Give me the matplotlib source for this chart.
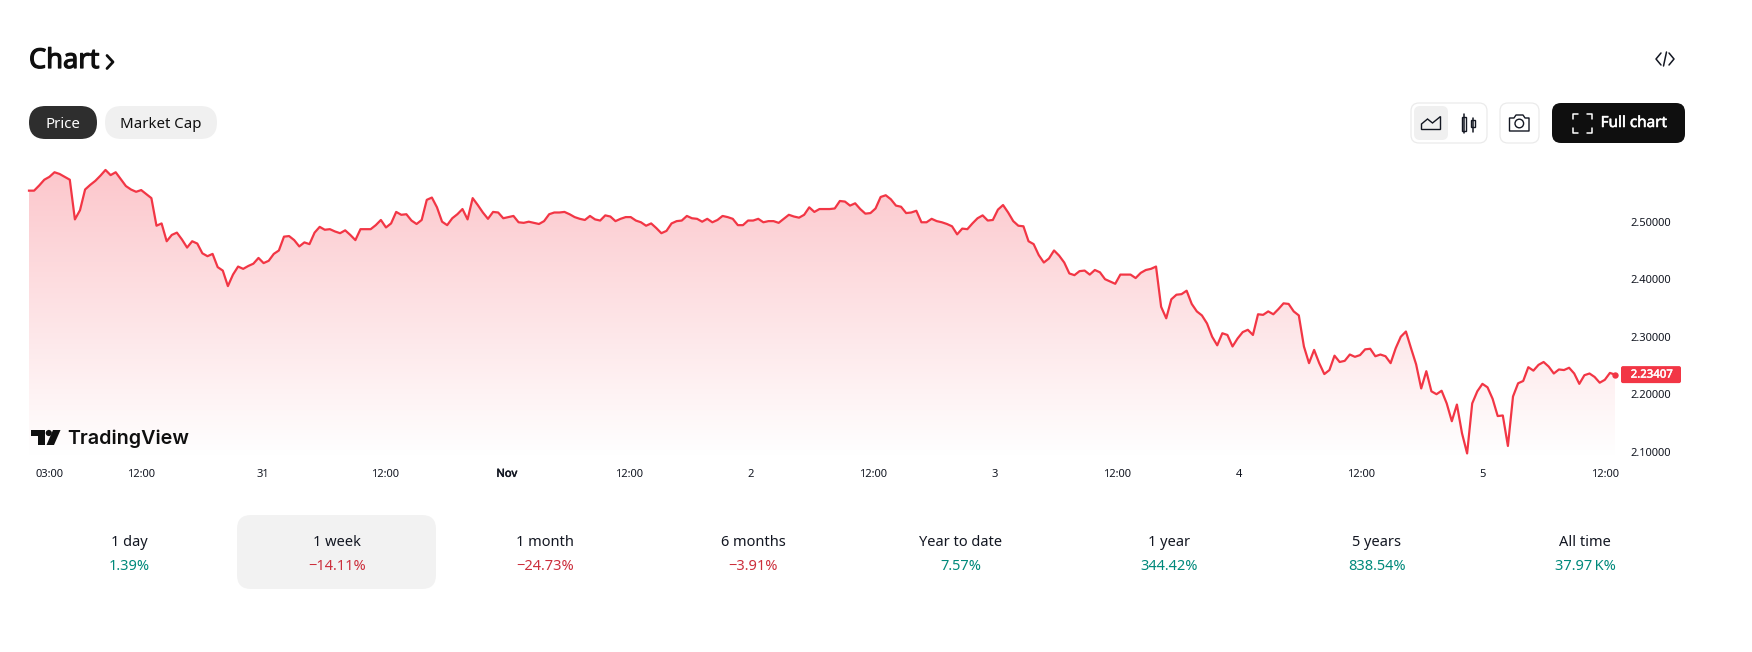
import numpy as np
import matplotlib
matplotlib.use("Agg")
import matplotlib.pyplot as plt
import matplotlib.patheffects as pe
from matplotlib.patches import FancyBboxPatch, Polygon, Circle, Rectangle
from matplotlib.colors import LinearSegmentedColormap

plt.rcParams['font.family'] = ['Noto Sans', 'DejaVu Sans']

prices = [
 2.554,2.554,2.563,2.573,2.578,2.586,2.583,2.578,2.573,2.504,2.520,2.556,2.564,2.571,2.580,2.590,2.581,2.586,2.574,2.562,
 2.556,2.552,2.555,2.548,2.541,2.493,2.497,2.466,2.477,2.481,2.469,2.455,2.466,2.462,2.445,2.440,2.444,2.421,2.415,2.388,
 2.408,2.422,2.418,2.423,2.427,2.437,2.428,2.432,2.444,2.450,2.474,2.475,2.468,
 2.457,2.464,2.461,2.481,2.491,2.486,2.487,2.483,2.480,2.485,2.477,2.468,2.487,2.487,2.487,2.494,2.503,2.490,2.497,2.517,
 2.512,2.513,2.502,2.496,2.503,2.538,2.542,2.525,2.500,2.494,2.506,2.513,2.522,2.504,2.541,2.529,2.516,2.505,2.517,2.516,
 2.506,2.508,2.510,2.499,2.498,2.500,2.498,2.496,2.501,2.513,2.516,2.516,
 2.517,2.513,2.508,2.505,2.503,2.510,2.504,2.502,2.511,2.509,2.501,2.505,2.508,2.508,2.502,2.499,2.493,2.497,2.489,2.480,
 2.484,2.497,2.501,2.502,2.510,2.506,2.505,2.500,2.505,2.499,2.503,2.510,2.508,2.505,2.494,2.494,2.502,2.502,2.505,2.499,
 2.501,2.501,2.498,2.505,2.512,2.509,2.507,2.512,2.525,2.517,2.522,2.522,
 2.522,2.523,2.536,2.535,2.528,2.532,2.522,2.514,2.515,2.523,2.543,2.546,2.539,2.528,2.526,2.515,2.516,2.519,2.499,2.499,
 2.505,2.501,2.499,2.496,2.492,2.478,2.488,2.487,2.497,2.506,2.511,2.502,2.503,2.521,2.529,2.516,2.501,2.493,2.492,2.466,
 2.461,2.442,2.429,2.436,2.450,2.441,2.429,2.410,2.407,2.414,2.415,2.408,
 2.416,2.412,2.400,2.396,2.392,2.408,2.408,2.408,2.402,2.411,2.416,2.418,2.422,2.352,2.332,2.365,2.373,2.374,2.380,2.357,
 2.344,2.337,2.323,2.300,2.285,2.306,2.303,2.283,2.297,2.308,2.312,2.303,2.339,2.338,2.344,2.339,2.348,2.358,2.357,2.344,
 2.337,2.283,2.254,2.277,2.254,2.235,2.242,2.267,2.256,2.258,2.269,
 2.265,2.268,2.278,2.279,2.266,2.269,2.266,2.254,2.280,2.300,2.309,2.280,2.252,2.210,2.240,2.205,2.200,2.206,2.184,2.153,
 2.182,2.132,2.097,2.184,2.205,2.218,2.212,2.192,2.162,2.163,2.110,2.196,2.219,2.223,2.247,2.241,2.251,2.256,2.248,2.236,
 2.243,2.242,2.246,2.236,2.218,2.233,2.236,2.230,2.220,2.225,2.237,2.23407,
]
time_start_h, time_end_h = 1.0, 157.0
last_price = 2.23407
y_ticks = [2.1, 2.2, 2.3, 2.4, 2.5]
x_ticks = [3, 12, 24, 36, 48, 60, 72, 84, 96, 108, 120, 132, 144, 156]
x_labels = ['03:00', '12:00', '31', '12:00', 'Nov', '12:00', '2', '12:00', '3', '12:00', '4', '12:00', '5', '12:00']
periods = ['1 day', '1 week', '1 month', '6 months', 'Year to date', '1 year', '5 years', 'All time']
changes = ['1.39%', '\u221214.11%', '\u221224.73%', '\u22123.91%', '7.57%', '344.42%', '838.54%', '37.97\u2009K%']

RED = '#f23645'; TXT = '#131722'
W, H = 1752, 652
fig = plt.figure(figsize=(W/100, H/100), dpi=100, facecolor='white')

def heavy(color, w=0.5):
    return [pe.withStroke(linewidth=w, foreground=color)]

# ---------- price chart
L, R, T, B = 29, 1615, 165, 456
ax = fig.add_axes([L/W, 1-B/H, (R-L)/W, (B-T)/H])
hours = np.linspace(time_start_h, time_end_h, len(prices))
ylo = 2.5-(B-221.7)/575; yhi = 2.5-(T-221.7)/575
fill = ax.fill_between(hours, prices, ylo, facecolor='none', edgecolor='none')
cm = LinearSegmentedColormap.from_list('g', ['#fcc6cb', '#ffffff'])
im = ax.imshow(np.linspace(0, 1, 256)[:, None], cmap=cm, aspect='auto', vmin=0, vmax=1,
               extent=[time_start_h, time_end_h, ylo, yhi], origin='upper', zorder=1)
im.set_clip_path(fill.get_paths()[0], transform=ax.transData)
ax.plot(hours, prices, color=RED, lw=1.6, zorder=3, solid_joinstyle='round', clip_on=False)
ax.plot(hours[-1], prices[-1], 'o', color=RED, ms=4.6, mew=0, zorder=4, clip_on=False)
ax.set_xlim(time_start_h, time_end_h); ax.set_ylim(ylo, yhi)
for s in ax.spines.values():
    s.set_visible(False)
ax.yaxis.tick_right()
ax.set_yticks(y_ticks, [f'{v:.5f}' for v in y_ticks])
ax.set_xticks(x_ticks, x_labels)
ax.tick_params(axis='y', length=0, pad=11.3, labelsize=8, labelcolor=TXT)
ax.tick_params(axis='x', length=0, pad=9.2, labelsize=8, labelcolor=TXT)
for lab in ax.get_xticklabels():
    if lab.get_text() == 'Nov':
        lab.set_path_effects(heavy(TXT, 0.4))
ax.patch.set_visible(False)

# ---------- page furniture, in pixel units
ov = fig.add_axes([0, 0, 1, 1], zorder=5)
ov.set_xlim(0, W); ov.set_ylim(H, 0); ov.axis('off')

def box(x0, y0, x1, y1, r, fc, ec='none', lw=0):
    ov.add_patch(FancyBboxPatch((x0+r, y0+r), x1-x0-2*r, y1-y0-2*r,
                 boxstyle=f'round,pad={r},rounding_size={r}', fc=fc, ec=ec, lw=lw))

def ln(xs, ys, c='#131722', lw=1.1):
    ov.plot(xs, ys, color=c, lw=lw, solid_capstyle='round', solid_joinstyle='round')

ov.text(29, 61, 'Chart', fontsize=19.6, color='#0f0f0f', va='center', ha='left',
        path_effects=heavy('#0f0f0f', 0.9))
ln([107, 113, 107], [55.5, 62, 68.5], c='#0f0f0f', lw=2.0)

ln([1661, 1656, 1661], [53, 59, 65]); ln([1669, 1674, 1669], [53, 59, 65]); ln([1666.5, 1663.5], [52, 66])

box(29, 106, 97, 139, 16.5, '#2e2e2e')
ov.text(63, 124, 'Price', color='white', fontsize=10.8, ha='center', va='center')
box(105, 106, 217, 139, 16.5, '#f0f0f0')
ov.text(161, 124, 'Market Cap', color='#0f0f0f', fontsize=10.8, ha='center', va='center')

box(1411, 103, 1487, 143, 8, 'white', '#ebebeb', 0.9)
box(1414, 106, 1448, 140, 6, '#f0f0f0')
ov.add_patch(Polygon([(1421.5, 129.5), (1421.5, 124), (1427.5, 119), (1432.5, 123), (1440.5, 116.5), (1440.5, 129.5)],
                     closed=True, fc='none', ec='#131722', lw=1.0))
ln([1464, 1464], [113.5, 133]); ln([1472.7, 1472.7], [118, 131.5])
ov.add_patch(Rectangle((1462.2, 116.5), 3.6, 14, fc='white', ec='#131722', lw=1.0))
ov.add_patch(Rectangle((1470.9, 119.5), 3.6, 7.5, fc='white', ec='#131722', lw=1.0))

box(1500, 103, 1539, 143, 8, 'white', '#ebebeb', 0.9)
ov.add_patch(Polygon([(1509.5, 131), (1509.5, 118), (1514, 118), (1516, 115), (1523, 115), (1525, 118), (1529, 118), (1529, 131)],
                     closed=True, fc='none', ec='#131722', lw=1.0, joinstyle='round'))
ov.add_patch(Circle((1519.3, 123.5), 4.3, fc='none', ec='#131722', lw=1.0))

box(1552, 103, 1685, 143, 9, '#0f0f0f')
for sx, sy, cx, cy in [(-1, -1, 1572.5, 113.5), (1, -1, 1591.5, 113.5), (-1, 1, 1572.5, 132.5), (1, 1, 1591.5, 132.5)]:
    ln([cx, cx, cx - sx*5], [cy - sy*5, cy, cy], c='white', lw=1.1)
ov.text(1634, 123.5, 'Full chart', color='white', fontsize=11, ha='center', va='center',
        path_effects=heavy('white', 0.4))

# TradingView logo
ov.add_patch(Polygon([(31, 430), (44.5, 430), (44.5, 445), (37.5, 445), (37.5, 436), (31, 436)], closed=True, fc='#0f0f0f', ec='none'))
ov.add_patch(Circle((48.8, 433), 3.1, fc='#0f0f0f', ec='none'))
ov.add_patch(Polygon([(53, 430), (60.5, 430), (54, 445), (46.5, 445)], closed=True, fc='#0f0f0f', ec='none'))
ov.text(67, 438.5, 'TradingView', fontsize=14.2, fontweight='semibold', family='Inter', color='#0f0f0f', ha='left', va='center')

# last price tag
y_last = 1 - (ax.transData.transform((0, last_price))[1] / H)
ov.add_patch(FancyBboxPatch((1622, y_last*H-7.5), 58, 15, boxstyle='round,pad=1,rounding_size=2', fc=RED, ec='none'))
ov.text(1630.7, y_last*H+0.5, f'{last_price:.5f}', color='white', fontsize=8.2, ha='left', va='center',
        path_effects=heavy('white', 0.35))

# period tabs
box(237, 515, 436, 589, 14, '#f2f2f2')
centers = [129, 337, 545, 753, 961, 1169, 1377, 1585]
for cx, p, c in zip(centers, periods, changes):
    col = '#cc2f3c' if c.startswith('\u2212') else '#00897b'
    ov.text(cx, 542, p, color=TXT, fontsize=10.5, ha='center', va='center')
    ov.text(cx, 566, c, color=col, fontsize=10.5, ha='center', va='center')

fig.savefig('out.png', dpi=100, facecolor='white')
